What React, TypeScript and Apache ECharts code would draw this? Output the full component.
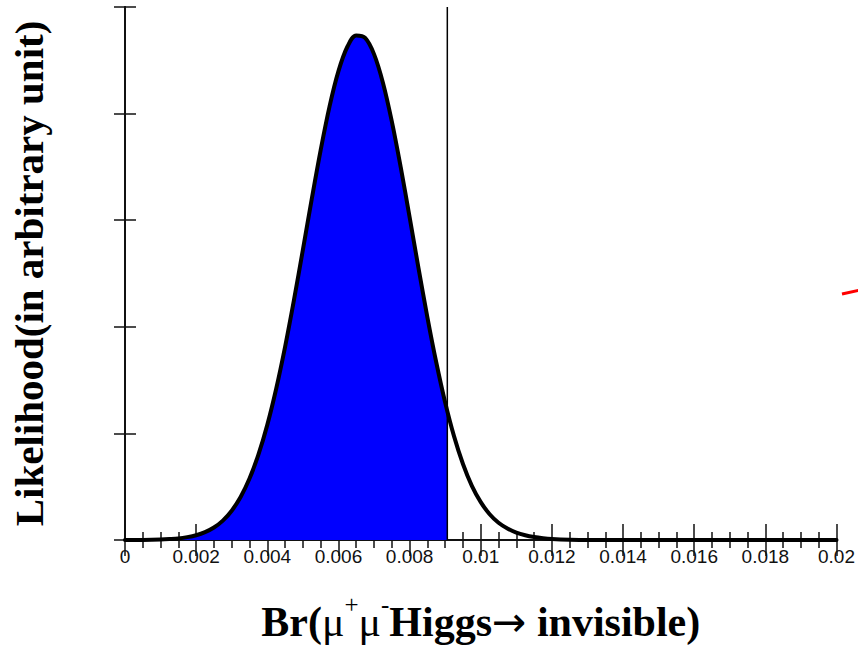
import React, { useEffect, useRef } from "react";
import * as echarts from "echarts";

// Br(mu+ mu- Higgs -> invisible) sample points and likelihood values
const brValues = [
  0, 0.0005, 0.001, 0.00125, 0.0015, 0.00175, 0.002, 0.00225, 0.0025, 0.00275,
  0.003, 0.00325, 0.0035, 0.00375, 0.004, 0.00425, 0.0045, 0.00475, 0.005, 0.00525,
  0.0055, 0.00575, 0.006, 0.00625, 0.0065, 0.00675, 0.007, 0.00725, 0.0075,
  0.00775, 0.008, 0.00825, 0.0085, 0.00875, 0.009, 0.00925, 0.0095, 0.00975, 0.01,
  0.01025, 0.0105, 0.01075, 0.011, 0.01125, 0.0115, 0.01175, 0.012, 0.0125, 0.013, 0.016, 0.02,
];
const likelihood = [
  0, 0.001, 0.005, 0.009, 0.015, 0.027, 0.045, 0.074, 0.117, 0.182,
  0.275, 0.403, 0.576, 0.8, 1.08, 1.419, 1.812, 2.252, 2.722, 3.2,
  3.658, 4.068, 4.398, 4.627, 4.733, 4.71, 4.558, 4.29, 3.927,
  3.497, 3.028, 2.551, 2.089, 1.665, 1.29, 0.972, 0.713, 0.508, 0.355,
  0.242, 0.162, 0.108, 0.07, 0.045, 0.028, 0.017, 0.01, 0.003, 0, 0, 0,
];
const cutValue = 0.00906; // vertical line / end of the filled region
const xMin = 0;
const xMax = 0.02;
const xStep = 0.002;
const yMin = 0;
const yMax = 5;
const yStep = 1;
const xTitle = "{b|Br(}{m|μ}{s|+}{m|μ}{s|-}{b|Higgs}{a|→}{b| invisible)}";
const yTitle = "Likelihood(in arbitrary unit)";

export default function App() {
  const ref = useRef<HTMLDivElement>(null);
  useEffect(() => {
    if (!ref.current) return;
    const chart = echarts.init(ref.current, null, { renderer: "svg" });
    const points = brValues.map((x, i) => [x, likelihood[i]]);
    const axisLine = { show: true, lineStyle: { color: "#111", width: 2 } };
    const fmt = (v: number) => String(parseFloat(v.toFixed(4)));
    const xCommon = {
      type: "value" as const,
      min: xMin,
      max: xMax,
      interval: xStep,
      axisLine,
      splitLine: { show: false },
      axisTick: { show: true, inside: true, length: 16, lineStyle: { color: "#111", width: 1.5 } },
      minorTick: { show: true, splitNumber: 4, length: 8, lineStyle: { color: "#111", width: 1.5 } },
    };
    const yCommon = {
      type: "value" as const,
      min: yMin,
      max: yMax,
      interval: yStep,
      axisLine,
      splitLine: { show: false },
      axisLabel: { show: false },
      axisTick: { show: true, inside: true, length: 11, lineStyle: { color: "#111", width: 1.5 } },
    };
    const serif = "'Liberation Serif', 'Times New Roman', serif";
    chart.setOption({
      animation: false,
      backgroundColor: "#fff",
      grid: { left: 122, right: 19, top: 7, bottom: 103, containLabel: false },
      xAxis: [
        {
          ...xCommon,
          position: "bottom",
          axisLabel: {
            show: true,
            formatter: fmt,
            fontFamily: "'Liberation Sans', Arial, sans-serif",
            fontSize: 19,
            color: "#111",
            margin: 7,
          },
          name: xTitle,
          nameLocation: "middle",
          nameGap: 52,
          nameTextStyle: {
            rich: {
              b: { fontFamily: serif, fontWeight: "bold", fontSize: 42, lineHeight: 60, color: "#000" },
              m: { fontFamily: serif, fontWeight: "normal", fontSize: 42, lineHeight: 60, color: "#000" },
              a: { fontFamily: "'DejaVu Sans', sans-serif", fontWeight: "normal", fontSize: 41, lineHeight: 60, color: "#000" },
              s: { fontFamily: serif, fontWeight: "normal", fontSize: 25, lineHeight: 12, verticalAlign: "top", color: "#000" },
            },
          },
        },
        { ...xCommon, position: "top", axisLabel: { show: false } },
      ],
      yAxis: [
        {
          ...yCommon,
          position: "left",
          name: yTitle,
          nameLocation: "middle",
          nameGap: 76,
          nameRotate: 90,
          nameTextStyle: { fontFamily: serif, fontWeight: "bold", fontSize: 41, lineHeight: 41, color: "#000" },
        },
        { ...yCommon, position: "right" },
      ],
      visualMap: {
        show: false,
        type: "piecewise",
        seriesIndex: 0,
        dimension: 0,
        pieces: [
          { gte: -1, lte: cutValue, color: "#0000ff" },
          { gt: cutValue, lte: 1, color: "rgba(0,0,255,0)" },
        ],
      },
      series: [
        {
          type: "line",
          data: points,
          smooth: 0.35,
          symbol: "none",
          lineStyle: { width: 0, opacity: 0 },
          areaStyle: { opacity: 1 },
          silent: true,
          z: 1,
        },
        {
          type: "line",
          data: [
            [cutValue, yMin],
            [cutValue, yMax],
          ],
          symbol: "none",
          lineStyle: { width: 1.5, color: "#000" },
          silent: true,
          z: 2,
        },
        {
          type: "line",
          data: points,
          smooth: 0.35,
          symbol: "none",
          lineStyle: { width: 4, color: "#000", join: "round", cap: "round" },
          itemStyle: { color: "#000" },
          silent: true,
          z: 3,
        },
      ],
      graphic: [
        {
          type: "line",
          shape: { x1: 842, y1: 294, x2: 860, y2: 290 },
          style: { stroke: "#ff0000", lineWidth: 3 },
          silent: true,
        },
      ],
    });
    return () => chart.dispose();
  }, []);
  return <div ref={ref} style={{ position: "fixed", left: 0, top: 0, width: 858, height: 648 }} />;
}
